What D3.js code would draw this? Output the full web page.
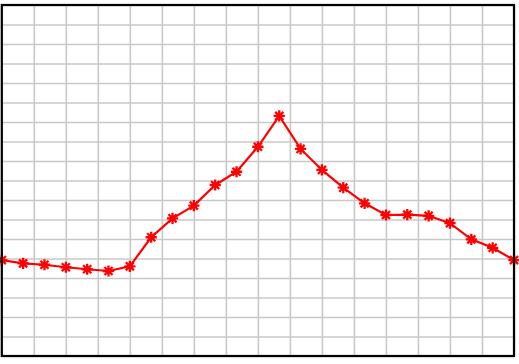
<!DOCTYPE html>
<html>
<head>
<meta charset="utf-8">
<script src="https://d3js.org/d3.v7.min.js"></script>
<style>
  html, body { margin: 0; padding: 0; background: #fff; }
</style>
</head>
<body>
<div id="chart"></div>
<script>
// data (x = sample index, y in grid units)
var xs = d3.range(0, 25);
var ys = [4.92, 4.75, 4.68, 4.55, 4.45, 4.36, 4.60, 6.09, 7.06, 7.71,
          8.77, 9.45, 10.73, 12.31, 10.62, 9.54, 8.63, 7.83, 7.23, 7.25,
          7.19, 6.81, 5.98, 5.55, 4.92];
// grid positions (no labels shown)
var xGrid = d3.range(0, 24.001, 1.5);
var yGrid = d3.range(0, 18.001, 1);

var W = 519, H = 364;
var margin = {left: 1.8, top: 5, right: 5, bottom: 8};
var w = W - margin.left - margin.right;
var h = H - margin.top - margin.bottom;

var svg = d3.select("#chart").append("svg")
    .attr("width", W)
    .attr("height", H);

var g = svg.append("g")
    .attr("transform", "translate(" + margin.left + "," + margin.top + ")");

var x = d3.scaleLinear().domain([0, 24]).range([0, w]);
var y = d3.scaleLinear().domain([0, 18]).range([h, 0]);

// grid lines via axes
g.append("g")
    .attr("class", "grid")
    .attr("transform", "translate(0," + h + ")")
    .call(d3.axisBottom(x).tickValues(xGrid).tickSize(-h).tickFormat(""));
g.append("g")
    .attr("class", "grid")
    .call(d3.axisLeft(y).tickValues(yGrid).tickSize(-w).tickFormat(""));

g.selectAll(".grid .domain").remove();
g.selectAll(".grid line")
    .attr("stroke", "#c8c8c8")
    .attr("stroke-width", 1.6);

// the data line
var line = d3.line()
    .x(function(d, i) { return x(xs[i]); })
    .y(function(d) { return y(d); });

g.append("path")
    .datum(ys)
    .attr("fill", "none")
    .attr("stroke", "#ff0000")
    .attr("stroke-width", 2.2)
    .attr("d", line);

// asterisk markers
var r = 5.6, rd = r * 0.72;
var star = "M" + (-r) + ",0L" + r + ",0" +
           "M0," + (-r) + "L0," + r +
           "M" + (-rd) + "," + (-rd) + "L" + rd + "," + rd +
           "M" + (-rd) + "," + rd + "L" + rd + "," + (-rd);

g.selectAll(".mk")
    .data(ys)
    .enter().append("path")
    .attr("class", "mk")
    .attr("transform", function(d, i) { return "translate(" + x(xs[i]) + "," + y(d) + ")"; })
    .attr("d", star)
    .attr("stroke", "#ff0000")
    .attr("stroke-width", 2.3)
    .attr("fill", "none");

// frame
g.append("rect")
    .attr("x", 0)
    .attr("y", 0)
    .attr("width", w)
    .attr("height", h)
    .attr("fill", "none")
    .attr("stroke", "#000")
    .attr("stroke-width", 2.2);
</script>
</body>
</html>
